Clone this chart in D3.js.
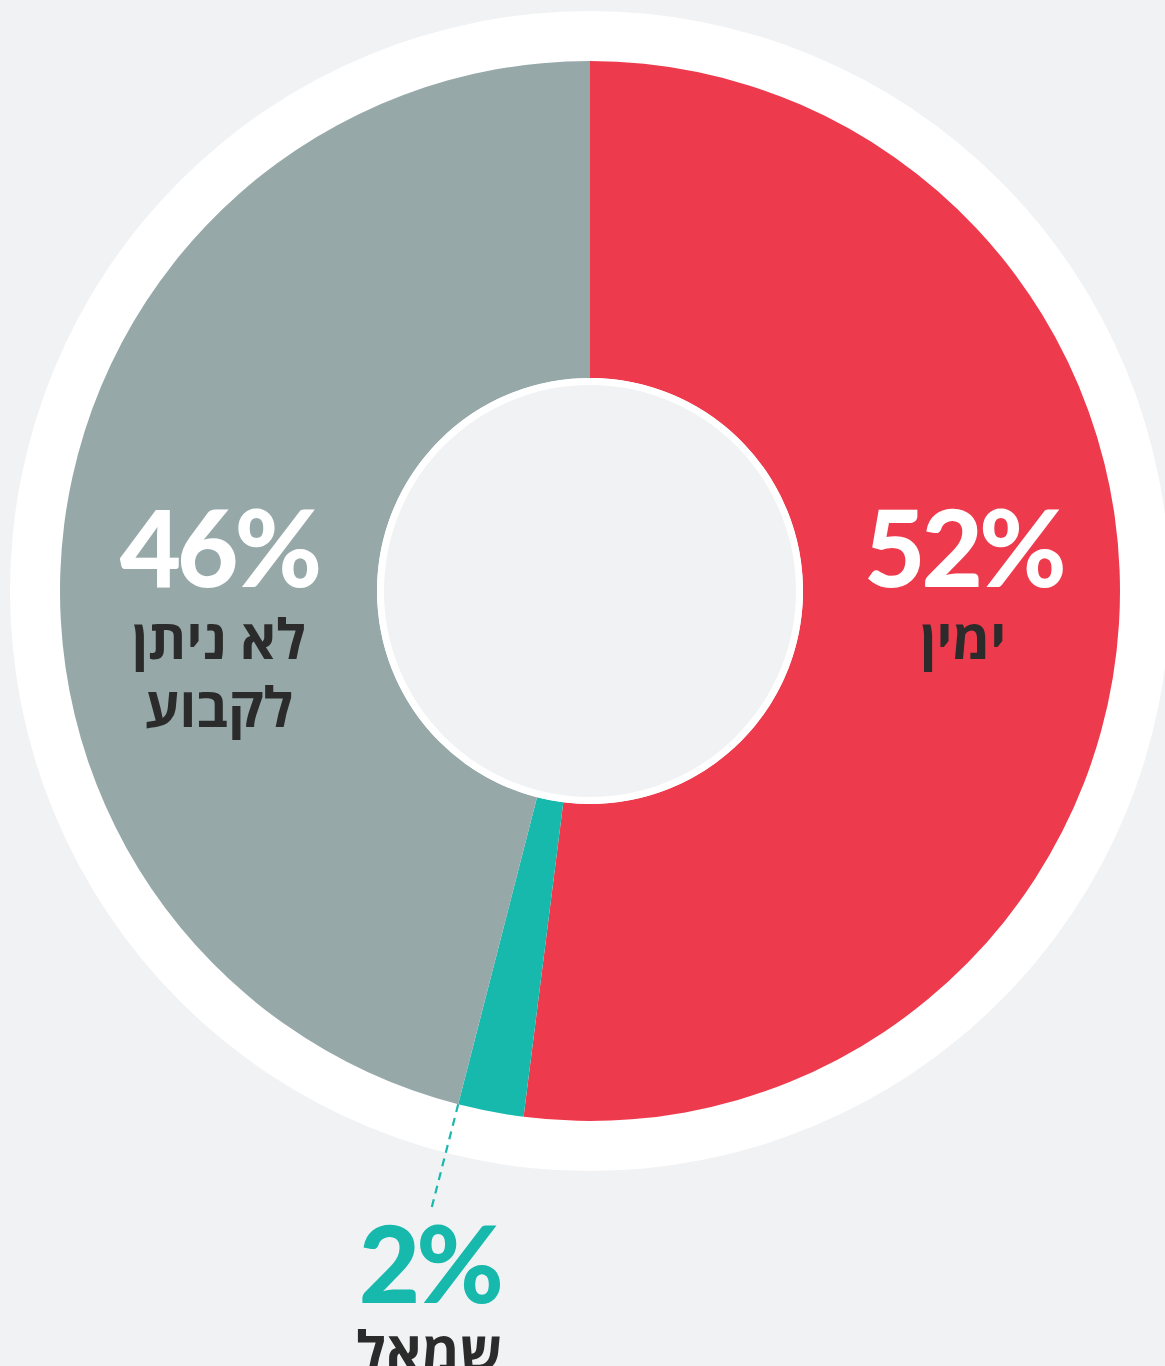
<!DOCTYPE html>
<html><head><meta charset="utf-8">
<script src="https://cdn.jsdelivr.net/npm/d3@7/dist/d3.min.js"></script>
<style>
html,body{margin:0;padding:0;background:#f1f2f4;}
svg{display:block;}
</style></head>
<body>
<svg id="chart" width="1165" height="1366"></svg>
<script>
const categories = ["ימין", "שמאל", "לא ניתן לקבוע"];
const values = [52, 2, 46];
const colors = ["#ee3a4d", "#17b9ad", "#97a8a9"];
const labelLines = [["ימין"], ["שמאל"], ["לא ניתן", "לקבוע"]];

const W = 1165, H = 1366;
const cx = 590, cy = 591;
const outerR = 530, innerR = 213, haloR = 580;

const svg = d3.select("#chart");
svg.append("rect").attr("width", W).attr("height", H).attr("fill", "#f1f2f4");
const g = svg.append("g").attr("transform", `translate(${cx},${cy})`);

g.append("circle").attr("r", haloR).attr("fill", "#ffffff");

const pie = d3.pie().sort(null).value(d => d.v);
const data = pie(categories.map((c, i) => ({c, v: values[i], color: colors[i], lines: labelLines[i]})));
const arc = d3.arc().innerRadius(innerR).outerRadius(outerR);

g.selectAll("path.slice").data(data).join("path")
  .attr("class", "slice")
  .attr("d", arc)
  .attr("fill", d => d.data.color);

g.append("circle").attr("r", innerR - 3.5).attr("fill", "#f1f2f4")
  .attr("stroke", "#ffffff").attr("stroke-width", 7);

const numFont = "Lato, 'Open Sans', sans-serif";
const hebFont = "'Open Sans', 'DejaVu Sans', sans-serif";
const labelArc = d3.arc().innerRadius(374).outerRadius(374);

// big slices: labels inside
data.filter(d => d.data.v >= 10).forEach(d => {
  const [x] = labelArc.centroid(d);
  const lg = g.append("g").attr("transform", `translate(${x},0)`);
  lg.append("text").attr("y", -4).attr("text-anchor", "middle")
    .attr("font-family", numFont).attr("font-weight", 900)
    .attr("font-size", 106).attr("letter-spacing", -4).attr("fill", "#ffffff")
    .text(d.data.v + "%");
  d.data.lines.forEach((ln, j) => {
    lg.append("text").attr("y", 68 + j * 68).attr("text-anchor", "middle")
      .attr("direction", "rtl")
      .attr("font-family", hebFont).attr("font-weight", 700)
      .attr("font-size", 55).attr("fill", "#2b2b2b")
      .text(ln);
  });
});

// small slice: leader line + outside label
data.filter(d => d.data.v < 10).forEach(d => {
  const a = d.endAngle;
  const p0 = [Math.sin(a) * outerR, -Math.cos(a) * outerR];
  const p1 = [Math.sin(a) * 638, -Math.cos(a) * 638];
  g.append("line").attr("x1", p0[0]).attr("y1", p0[1]).attr("x2", p1[0]).attr("y2", p1[1])
    .attr("stroke", d.data.color).attr("stroke-width", 2.2).attr("stroke-dasharray", "8,6");
  const lg = g.append("g").attr("transform", `translate(${p1[0] - 2},${p1[1]})`);
  lg.append("text").attr("y", 94).attr("text-anchor", "middle")
    .attr("font-family", numFont).attr("font-weight", 900)
    .attr("font-size", 106).attr("letter-spacing", -4).attr("fill", d.data.color)
    .text(d.data.v + "%");
  d.data.lines.forEach((ln, j) => {
    lg.append("text").attr("y", 162 + j * 68).attr("text-anchor", "middle")
      .attr("direction", "rtl")
      .attr("font-family", hebFont).attr("font-weight", 700)
      .attr("font-size", 55).attr("fill", "#2b2b2b")
      .text(ln);
  });
});
</script>
</body></html>
